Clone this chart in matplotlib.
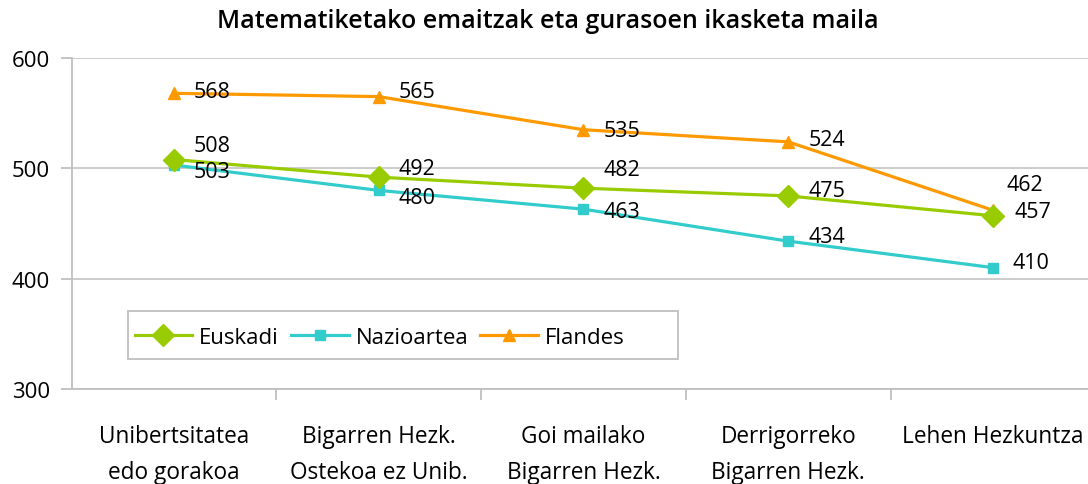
import matplotlib
matplotlib.use("Agg")
import matplotlib.pyplot as plt
from matplotlib.ticker import FixedLocator, NullFormatter
from matplotlib.patches import Rectangle

plt.rcParams['font.family'] = ['Open Sans', 'DejaVu Sans']

categories = ["Unibertsitatea\nedo gorakoa", "Bigarren Hezk.\nOstekoa ez Unib.",
              "Goi mailako\nBigarren Hezk.", "Derrigorreko\nBigarren Hezk.", "Lehen Hezkuntza"]
euskadi = [508, 492, 482, 475, 457]
nazioartea = [503, 480, 463, 434, 410]
flandes = [568, 565, 535, 524, 462]
title = "Matematiketako emaitzak eta gurasoen ikasketa maila"

# label offsets (pixels) - styling only
off_eus = [(20, 14), (20, 9), (20, 19), (20, 5), (22, 4)]
off_naz = [(20, -6), (20, -7), (20, -2), (20, 5), (20, 5)]
off_fla = [(20, 2), (20, 5), (20, -1), (20, 2), (14, 26)]

fig = plt.figure(figsize=(10.88, 4.85), dpi=100)
ax = fig.add_axes([72/1088, 1-390/485, (1088-72)/1088, (390-59)/485])

x = list(range(len(categories)))
c_eus, c_naz, c_fla = "#99CC00", "#33CCCC", "#FF9900"
ax.plot(x, euskadi, color=c_eus, lw=2.3, marker='D', ms=11, label="Euskadi", zorder=4)
ax.plot(x, nazioartea, color=c_naz, lw=2.3, marker='s', ms=7.5, label="Nazioartea", zorder=3)
ax.plot(x, flandes, color=c_fla, lw=2.3, marker='^', ms=9, label="Flandes", zorder=3)

for vals, offs in ((euskadi, off_eus), (nazioartea, off_naz), (flandes, off_fla)):
    for i, (v, o) in enumerate(zip(vals, offs)):
        ax.annotate(str(v), (i, v), xytext=o, textcoords='offset pixels',
                    ha='left', va='center', fontsize=15.5, color='black', zorder=5)

ax.set_ylim(300, 600)
ax.set_yticks([300, 400, 500, 600])
ax.set_xlim(-0.498, 4.464)
ax.xaxis.set_major_locator(FixedLocator([-0.5, 0.5, 1.5, 2.5, 3.5]))
ax.xaxis.set_major_formatter(NullFormatter())
ax.xaxis.set_minor_locator(FixedLocator(x))
ax.set_xticklabels(categories, minor=True, fontsize=16.3, linespacing=1.68)
ax.tick_params(axis='x', which='minor', length=0, pad=25)
ax.tick_params(axis='x', which='major', length=8, color='#BFBFBF', width=1.3)
ax.tick_params(axis='y', length=8, color='#BFBFBF', width=1.3, labelsize=16, pad=8)

ax.grid(axis='y', color='#C8C8C8', lw=1.3)
ax.set_axisbelow(True)
for s in ('top', 'right'):
    ax.spines[s].set_visible(False)
for s in ('left', 'bottom'):
    ax.spines[s].set_color('#BFBFBF')
    ax.spines[s].set_linewidth(1.3)

# legend frame
ax.add_patch(Rectangle((0.055, 0.09), 0.541, 0.145, transform=ax.transAxes,
                       facecolor='white', edgecolor='#BFBFBF', lw=1.3, zorder=6))
leg = ax.legend(loc='center left', bbox_to_anchor=(0.055, 0.157),
                ncol=3, fontsize=16, frameon=False, handlelength=2.6,
                handletextpad=0.3, columnspacing=0.55, borderaxespad=0, borderpad=0.3)
leg.set_zorder(7)

fig.text(548/1088, 1-22/485, title, ha='center', va='center', fontsize=18, fontweight='semibold')

fig.savefig("out.png", dpi=100)
